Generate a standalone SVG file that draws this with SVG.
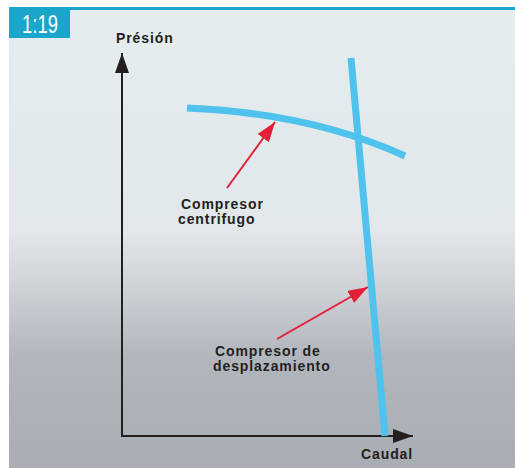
<svg xmlns="http://www.w3.org/2000/svg" width="515" height="468" viewBox="0 0 515 468">
<defs>
<linearGradient id="bg" x1="0" y1="10" x2="0" y2="468" gradientUnits="userSpaceOnUse">
<stop offset="0" stop-color="#e5edef"/>
<stop offset="0.48" stop-color="#e1e7ea"/>
<stop offset="0.62" stop-color="#ccd0d5"/>
<stop offset="0.76" stop-color="#b1b5bc"/>
<stop offset="1" stop-color="#a9adb4"/>
</linearGradient>
<marker id="blk" viewBox="0 0 20 14" refX="20" refY="7" markerWidth="20" markerHeight="14" markerUnits="userSpaceOnUse" orient="auto">
<path d="M0,0 L20,7 L0,14 Z" fill="#231f20"/>
</marker>
<marker id="red" viewBox="0 0 20 14" refX="20" refY="7" markerWidth="20" markerHeight="14" markerUnits="userSpaceOnUse" orient="auto">
<path d="M0,0 L20,7 L0,14 Z" fill="#e3203a"/>
</marker>
<style>
.lbl{font-family:"Liberation Sans",Arial,sans-serif;font-weight:bold;font-size:14px;letter-spacing:0.9px;fill:#231f20}
.axis{stroke:#231f20;stroke-width:2;fill:none}
.curve{stroke:#50c2ee;stroke-width:7;fill:none}
.ptr{stroke:#e3203a;stroke-width:2;fill:none}
</style>
</defs>
<rect x="0" y="0" width="515" height="468" fill="#ffffff"/>
<rect x="9" y="10" width="506" height="458" fill="url(#bg)"/>
<rect x="9" y="7" width="506" height="3" fill="#1aa5ca"/>
<g id="badge">
<rect x="9" y="7" width="61" height="31" fill="#1aa5ca"/>
<text x="22" y="33" font-family="'Liberation Sans',Arial,sans-serif" font-size="26" fill="#ffffff" textLength="36" lengthAdjust="spacingAndGlyphs">1:19</text>
</g>
<g id="connectors">
<line class="axis" x1="122" y1="436" x2="122" y2="53" marker-end="url(#blk)"/>
<line class="axis" x1="121" y1="436" x2="413" y2="436" marker-end="url(#blk)"/>
<line class="ptr" x1="227" y1="188" x2="275" y2="122" marker-end="url(#red)"/>
<line class="ptr" x1="277" y1="339" x2="368" y2="287" marker-end="url(#red)"/>
</g>
<g id="curve-centrifugo">
<path class="curve" d="M187,108 Q310,113 405,156"/>
</g>
<g id="curve-desplazamiento">
<path class="curve" d="M351,58 L385,436"/>
</g>
<g id="label-presion"><text class="lbl" x="116" y="43">Présión</text></g>
<g id="label-caudal"><text class="lbl" x="361" y="459">Caudal</text></g>
<g id="label-centrifugo"><text class="lbl" x="181" y="209">Compresor</text><text class="lbl" x="178" y="224">centrifugo</text></g>
<g id="label-desplazamiento"><text class="lbl" x="215" y="356">Compresor de</text><text class="lbl" x="213" y="371">desplazamiento</text></g>
</svg>
